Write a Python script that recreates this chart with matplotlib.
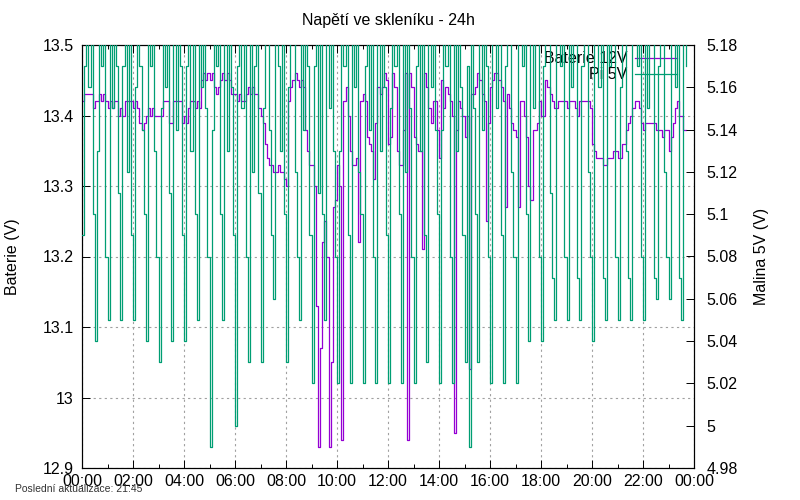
import numpy as np
import matplotlib
matplotlib.use("Agg")
import matplotlib.pyplot as plt
from matplotlib.ticker import MultipleLocator, FuncFormatter

plt.rcParams['font.family'] = ['Liberation Sans', 'DejaVu Sans']
plt.rcParams['font.size'] = 11.5

# one sample every 5 minutes, starting at 00:00
SAMPLE_MIN = 5

# Baterie 12V (left axis), 12 samples per hour
baterie = [
    13.42, 13.43, 13.43, 13.43, 13.43, 13.41, 13.42, 13.42, 13.43, 13.42, 13.43, 13.42,  # 00
    13.41, 13.42, 13.41, 13.42, 13.42, 13.40, 13.41, 13.40, 13.42, 13.42, 13.42, 13.42,  # 01
    13.41, 13.42, 13.41, 13.39, 13.38, 13.39, 13.40, 13.41, 13.40, 13.41, 13.40, 13.40,  # 02
    13.40, 13.40, 13.42, 13.42, 13.42, 13.39, 13.39, 13.42, 13.42, 13.42, 13.42, 13.39,  # 03
    13.40, 13.39, 13.41, 13.42, 13.42, 13.41, 13.42, 13.41, 13.45, 13.46, 13.45, 13.46,  # 04
    13.45, 13.46, 13.44, 13.43, 13.44, 13.45, 13.46, 13.45, 13.46, 13.45, 13.43, 13.43,  # 05
    13.43, 13.42, 13.43, 13.42, 13.42, 13.43, 13.44, 13.43, 13.44, 13.43, 13.43, 13.41,  # 06
    13.40, 13.39, 13.36, 13.34, 13.33, 13.33, 13.32, 13.32, 13.33, 13.32, 13.32, 13.31,  # 07
    13.30, 13.42, 13.44, 13.45, 13.46, 13.45, 13.44, 13.45, 13.44, 13.38, 13.35, 13.33,  # 08
    13.33, 13.30, 13.13, 12.93, 13.07, 13.22, 13.25, 13.20, 12.93, 13.05, 13.27, 13.28,  # 09
    13.33, 13.30, 12.94, 13.42, 13.44, 13.40, 13.35, 13.33, 13.33, 13.34, 13.22, 13.42,  # 10
    13.43, 13.42, 13.37, 13.36, 13.35, 13.31, 13.39, 13.44, 13.43, 13.44, 13.46, 13.45,  # 11
    13.36, 13.37, 13.46, 13.44, 13.35, 13.33, 13.33, 13.38, 13.46, 12.94, 13.46, 13.44,  # 12
    13.37, 13.36, 13.35, 13.35, 13.21, 13.46, 13.44, 13.41, 13.39, 13.42, 13.42, 13.38,  # 13
    13.34, 13.45, 13.41, 13.44, 13.43, 13.42, 13.40, 12.95, 13.38, 13.42, 13.41, 13.40,  # 14
    13.37, 13.40, 13.04, 13.43, 13.43, 13.44, 13.46, 13.45, 13.43, 13.42, 13.25, 13.39,  # 15
    13.44, 13.45, 13.46, 13.46, 13.45, 13.44, 13.42, 13.27, 13.43, 13.41, 13.39, 13.38,  # 16
    13.37, 13.27, 13.42, 13.42, 13.40, 13.37, 13.30, 13.28, 13.38, 13.38, 13.39, 13.42,  # 17
    13.40, 13.40, 13.45, 13.44, 13.43, 13.42, 13.41, 13.41, 13.42, 13.42, 13.42, 13.42,  # 18
    13.41, 13.42, 13.42, 13.42, 13.41, 13.40, 13.42, 13.42, 13.42, 13.42, 13.42, 13.41,  # 19
    13.36, 13.35, 13.34, 13.34, 13.34, 13.33, 13.33, 13.34, 13.34, 13.34, 13.35, 13.35,  # 20
    13.34, 13.34, 13.36, 13.36, 13.38, 13.39, 13.40, 13.41, 13.42, 13.42, 13.41, 13.39,  # 21
    13.38, 13.39, 13.39, 13.39, 13.39, 13.39, 13.38, 13.38, 13.38, 13.37, 13.38, 13.38,  # 22
    13.35, 13.37, 13.39, 13.41, 13.42, 13.40, 13.40, 13.38, 13.38,                       # 23
]

# Pi 5V (right axis), 6 samples per half hour, first one is the dip
malina = [
    5.09, 5.17, 5.19, 5.16, 5.19, 5.10,  # 00:00
    5.04, 5.13, 5.19, 5.17, 5.19, 5.08,
    5.05, 5.19, 5.15, 5.19, 5.17, 5.11,  # 01:00
    5.05, 5.17, 5.19, 5.12, 5.19, 5.09,
    5.05, 5.16, 5.19, 5.17, 5.14, 5.10,  # 02:00
    5.04, 5.19, 5.17, 5.19, 5.13, 5.08,
    5.03, 5.15, 5.19, 5.16, 5.19, 5.11,  # 03:00
    5.04, 5.19, 5.14, 5.19, 5.17, 5.09,
    5.04, 5.17, 5.19, 5.13, 5.19, 5.10,  # 04:00
    5.05, 5.19, 5.16, 5.19, 5.15, 5.08,
    4.99, 5.14, 5.19, 5.17, 5.19, 5.10,  # 05:00
    5.05, 5.19, 5.13, 5.19, 5.16, 5.09,
    5.00, 5.17, 5.19, 5.15, 5.19, 5.08,  # 06:00
    5.03, 5.19, 5.12, 5.17, 5.19, 5.11,
    5.03, 5.15, 5.19, 5.19, 5.14, 5.09,  # 07:00
    5.06, 5.19, 5.17, 5.13, 5.19, 5.10,
    5.03, 5.16, 5.19, 5.19, 5.12, 5.08,  # 08:00
    5.05, 5.19, 5.14, 5.19, 5.17, 5.09,
    5.02, 5.17, 5.19, 5.11, 5.19, 5.10,  # 09:00
    5.05, 5.19, 5.15, 5.19, 5.13, 5.08,
    5.02, 5.13, 5.19, 5.17, 5.19, 5.09,  # 10:00
    5.02, 5.19, 5.16, 5.19, 5.12, 5.10,
    5.02, 5.17, 5.19, 5.14, 5.19, 5.08,  # 11:00
    5.02, 5.19, 5.13, 5.19, 5.16, 5.09,
    5.02, 5.15, 5.19, 5.17, 5.19, 5.10,  # 12:00
    5.02, 5.19, 5.12, 5.19, 5.15, 5.08,
    5.02, 5.17, 5.19, 5.13, 5.19, 5.09,  # 13:00
    5.03, 5.19, 5.16, 5.19, 5.14, 5.10,
    5.02, 5.14, 5.19, 5.17, 5.19, 5.08,  # 14:00
    5.02, 5.19, 5.13, 5.19, 5.16, 5.09,
    5.03, 5.17, 4.99, 5.19, 5.15, 5.10,  # 15:00
    5.03, 5.19, 5.14, 5.19, 5.17, 5.08,
    5.02, 5.19, 5.19, 5.15, 5.19, 5.09,  # 16:00
    5.02, 5.17, 5.19, 5.19, 5.12, 5.08,
    5.02, 5.19, 5.19, 5.17, 5.19, 5.10,  # 17:00
    5.04, 5.19, 5.15, 5.19, 5.19, 5.08,
    5.04, 5.17, 5.19, 5.19, 5.11, 5.07,  # 18:00
    5.05, 5.19, 5.19, 5.17, 5.19, 5.08,
    5.05, 5.19, 5.16, 5.19, 5.19, 5.07,  # 19:00
    5.05, 5.17, 5.19, 5.19, 5.12, 5.08,
    5.04, 5.19, 5.19, 5.16, 5.19, 5.07,  # 20:00
    5.05, 5.19, 5.17, 5.19, 5.19, 5.08,
    5.05, 5.16, 5.19, 5.19, 5.13, 5.07,  # 21:00
    5.05, 5.19, 5.19, 5.17, 5.19, 5.08,
    5.05, 5.19, 5.15, 5.19, 5.19, 5.07,  # 22:00
    5.06, 5.17, 5.19, 5.19, 5.12, 5.08,
    5.06, 5.19, 5.19, 5.16, 5.19, 5.07,  # 23:00
    5.05, 5.19, 5.17,
]

hours = np.arange(len(baterie)) * SAMPLE_MIN / 60.0
hours_pi = np.arange(len(malina)) * SAMPLE_MIN / 60.0

fig = plt.figure(figsize=(8, 5), dpi=100)
ax = fig.add_axes([82 / 800, 32 / 500, 612 / 800, 423 / 500])
ax2 = ax.twinx()

l1, = ax.plot(hours, baterie, drawstyle='steps-post', color='#9400d3', lw=0.9, zorder=3)
l2, = ax2.plot(hours_pi, malina, drawstyle='steps-post', color='#009e73', lw=0.9, zorder=3)

ax.set_xlim(0, 24)
ax.set_ylim(12.9, 13.5)
ax2.set_ylim(4.98, 5.18)

fmt = FuncFormatter(lambda v, p: f"{v:g}")
ax.xaxis.set_major_locator(MultipleLocator(2))
ax.xaxis.set_minor_locator(MultipleLocator(1))
ax.xaxis.set_major_formatter(FuncFormatter(lambda v, p: f"{int(round(v)) % 24:02d}:00"))
ax.yaxis.set_major_locator(MultipleLocator(0.1))
ax.yaxis.set_major_formatter(fmt)
ax2.yaxis.set_major_locator(MultipleLocator(0.02))
ax2.yaxis.set_major_formatter(fmt)

ax.tick_params(axis='x', which='both', direction='in', top=True, bottom=True, width=0.7)
ax.tick_params(axis='x', which='major', length=6, pad=4)
ax.tick_params(axis='x', which='minor', length=3)
ax.tick_params(axis='y', direction='in', left=True, right=False, length=6, width=0.7, pad=6)
ax2.tick_params(axis='y', direction='in', length=6, width=0.7, pad=9)

ax.grid(True, which='major', color='#a0a0a0', linestyle=(0, (2, 3)), lw=0.8)

for a in (ax, ax2):
    for s in a.spines.values():
        s.set_linewidth(0.8)
        s.set_color('black')

ax.set_ylabel("Baterie (V)")
ax.yaxis.set_label_coords(-0.101, 0.5)
ax2.set_ylabel("Malina 5V (V)")
ax2.yaxis.set_label_coords(1.098, 0.5)

leg = ax.legend([l1, l2], ["Baterie 12V", "Pi 5V"], loc='upper right',
                bbox_to_anchor=(0.972, 0.985), frameon=False, markerfirst=False,
                handlelength=2.6, handletextpad=0.5, labelspacing=0.05,
                borderpad=0, borderaxespad=0)
leg.set_zorder(2.5)

fig.text(388 / 800, 1 - 20 / 500, "Napětí ve skleníku - 24h", ha='center', va='center')
fig.text(15 / 800, 1 - 489 / 500, "Poslední aktualizace: 21:45", ha='left', va='center',
         fontsize=7.5, color='#333333')

fig.savefig("out.png", dpi=100)
